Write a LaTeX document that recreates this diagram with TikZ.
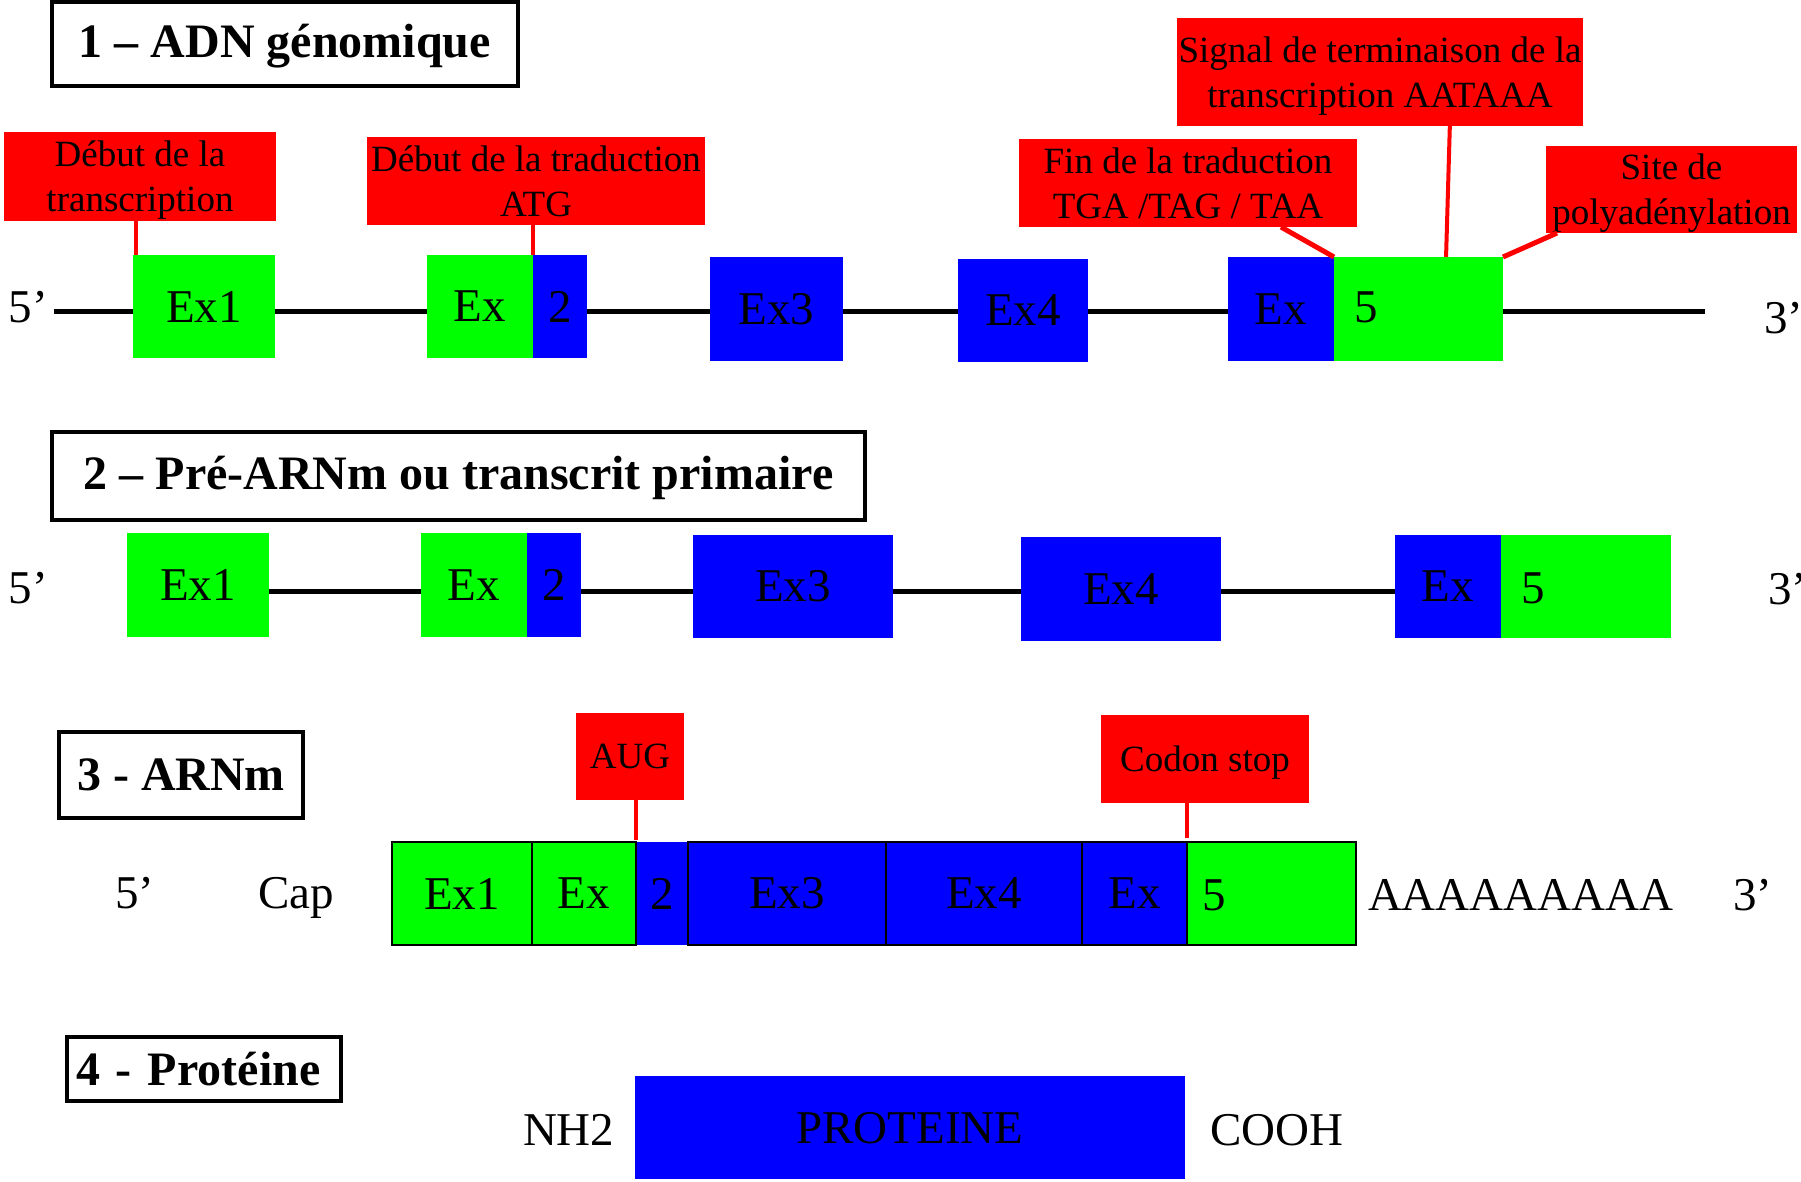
\documentclass[tikz,border=0pt]{standalone}
\usepackage{fontspec}
\setmainfont{Liberation Serif}
\usetikzlibrary{calc}
\definecolor{exgreen}{RGB}{0,255,0}
\definecolor{exblue}{RGB}{0,0,255}
\definecolor{labred}{RGB}{255,0,0}
\begin{document}
\begin{tikzpicture}[x=1pt,y=-1pt,
  every node/.style={inner sep=0pt, outer sep=0pt},
  sz/.style 2 args={minimum width=#1pt, minimum height=#2pt},
  exfont/.style={font=\fontsize{47}{56}\selectfont},
  gex/.style={fill=exgreen, exfont},
  bex/.style={fill=exblue, exfont},
  gexo/.style={gex, draw=black, line width=2pt},
  bexo/.style={bex, draw=black, line width=2pt},
  redlab/.style={fill=labred, align=center, text depth=0pt, font=\fontsize{37}{45}\selectfont},
  titlebox/.style={draw=black, line width=3.5pt, font=\fontsize{48}{58}\selectfont\bfseries},
  dnaline/.style={line width=5pt},
  redline/.style={draw=labred, line width=4pt},
  plain/.style={exfont, anchor=base west},
]
\useasboundingbox (0,0) rectangle (1801,1182);
\fill[white] (0,0) rectangle (1801,1182);

% ---------- Row 1 : ADN genomique ----------
\node[titlebox, sz={466}{84}, text depth=7pt] (t1) at (285,44) {1 – ADN génomique};
\coordinate (l1s) at (54,311);
\coordinate (l1e) at (1705,311);
\draw[dnaline] (l1s) -- (l1e);
\node[gex, sz={142}{103}] (a1) at (204,306.5) {Ex1};
\node[gex, sz={106}{103}] (a2g) at (480,306.5) {Ex};
\node[bex, sz={54}{103}] (a2b) at (560,306.5) {2};
\node[bex, sz={133}{104}] (a3) at (776.5,309) {Ex3};
\node[bex, sz={130}{103}] (a4) at (1023,310.5) {Ex4};
\node[bex, sz={106}{104}] (a5b) at (1281,309) {Ex};
\node[gex, sz={169}{104}] (a5g) at (1418.5,309) {};
\node[plain] (a5n) at (1354,323) {5};
\node[plain] (p1) at (9,323) {5’};
\node[plain] (q1) at (1764,333) {3’};

\node[redlab, sz={272}{89}] (r1) at (140,176.5) {Début de la\\transcription};
\node[redlab, sz={338}{88}] (r2) at (536,181) {Début de la traduction\\ATG};
\node[redlab, sz={406}{108}] (r3) at (1380,72) {Signal de terminaison de la\\transcription AATAAA};
\node[redlab, sz={338}{88}] (r4) at (1188,183) {Fin de la traduction\\TGA /TAG / TAA};
\node[redlab, sz={251}{87}] (r5) at (1671.5,189.5) {Site de\\polyadénylation};

\draw[redline] ([xshift=3pt]a1.north west) -- ([xshift=3pt]a1.north west |- r1.south);
\draw[redline] (a2b.north west) -- (a2b.north west |- r2.south);
\draw[redline, line width=5pt] ($(r4.south west)!0.775!(r4.south east)$) -- (a5g.north west);
\draw[redline] ($(r3.south west)!0.672!(r3.south east)$) -- ($(a5g.north west)!0.663!(a5g.north east)$);
\draw[redline, line width=5pt] ($(r5.south west)!0.044!(r5.south east)$) -- (a5g.north east);

% ---------- Row 2 : Pre-ARNm ----------
\node[titlebox, sz={813}{88}, text depth=7pt] (t2) at (458.5,476) {2 – Pré-ARNm ou transcrit primaire};
\coordinate (l2s) at (269,591);
\coordinate (l2e) at (1395,591);
\draw[dnaline] (l2s) -- (l2e);
\node[gex, sz={142}{104}] (b1) at (198,585) {Ex1};
\node[gex, sz={106}{104}] (b2g) at (474,585) {Ex};
\node[bex, sz={54}{104}] (b2b) at (554,585) {2};
\node[bex, sz={200}{103}] (b3) at (793,586.5) {Ex3};
\node[bex, sz={200}{104}] (b4) at (1121,589) {Ex4};
\node[bex, sz={106}{103}] (b5b) at (1448,586.5) {Ex};
\node[gex, sz={170}{103}] (b5g) at (1586,586.5) {};
\node[plain] (b5n) at (1521,603) {5};
\node[plain] (p2) at (9,603) {5’};
\node[plain] (q2) at (1768,604) {3’};

% ---------- Row 3 : ARNm ----------
\node[titlebox, sz={244}{86}] (t3) at (181,775) {3 - ARNm};
\node[bex, sz={52}{103}] (g2b) at (662,893.5) {2};
\node[gexo, sz={140}{103}] (g1) at (462,893.5) {Ex1};
\node[gexo, sz={104}{103}] (g2g) at (584,893.5) {Ex};
\node[bexo, sz={198}{103}] (g3) at (787,893.5) {Ex3};
\node[bexo, sz={196}{103}] (g4) at (984,893.5) {Ex4};
\node[bexo, sz={105}{103}] (g5b) at (1134.5,893.5) {Ex};
\node[gexo, sz={169}{103}] (g5g) at (1271.5,893.5) {};
\node[plain] (g5n) at (1202,910) {5};
\node[plain] (p3) at (115,908) {5’};
\node[plain] (cap) at (258,908) {Cap};
\node[plain] (polyA) at (1368,910) {AAAAAAAAA};
\node[plain] (q3) at (1733,910) {3’};

\node[redlab, sz={108}{87}, text depth=-3pt] (aug) at (630,756.5) {AUG};
\node[redlab, sz={208}{88}] (stop) at (1205,759) {Codon stop};
\draw[redline] (g2g.north east |- aug.south) -- ([yshift=2pt]g2g.north east);
\draw[redline] (g5g.north west |- stop.south) -- ([yshift=4pt]g5g.north west);

% ---------- Row 4 : Proteine ----------
\node[titlebox, sz={274}{64}, text width=256pt, align=left] (t4) at (204,1069) {4 - Protéine};
\node[bex, sz={550}{103}, text depth=-6pt] (prot) at (910,1127.5) {PROTEINE};
\node[plain] (nh2) at (523,1145) {NH2};
\node[plain] (cooh) at (1210,1145) {COOH};
\end{tikzpicture}
\end{document}
